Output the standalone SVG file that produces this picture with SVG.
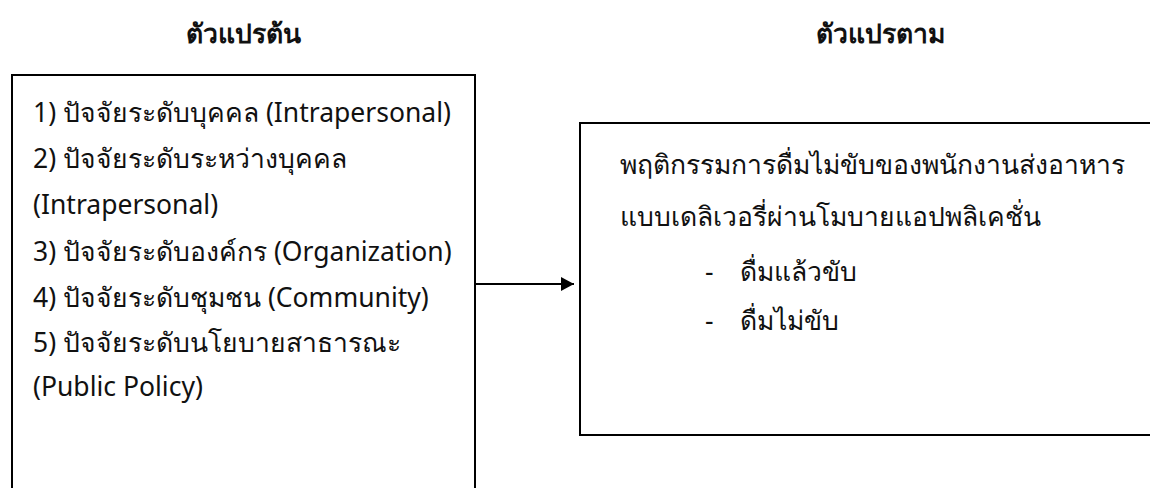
<svg xmlns="http://www.w3.org/2000/svg" width="1150" height="488" viewBox="0 0 1150 488">
<defs>
<style>
.t{font-family:"Noto Sans","DejaVu Sans",sans-serif;font-size:26.5px;fill:#111}
.h{font-family:"Noto Sans","DejaVu Sans",sans-serif;font-size:26.5px;font-weight:bold;fill:#111;text-anchor:middle}
.box{fill:#fff;stroke:#000;stroke-width:2}
</style>
<marker id="arr" markerWidth="13" markerHeight="14" refX="13" refY="7" orient="auto" markerUnits="userSpaceOnUse">
<path d="M0,0 L13,7 L0,14 Z" fill="#000"/>
</marker>
</defs>
<rect width="1150" height="488" fill="#fff"/>
<g id="title-left"><text class="h" x="243" y="43">ตัวแปรต้น</text></g>
<g id="title-right"><text class="h" x="880" y="43">ตัวแปรตาม</text></g>
<g id="node-independent">
<rect class="box" x="12" y="75" width="463" height="420"/>
<text class="t" x="33" y="122">1) ปัจจัยระดับบุคคล (Intrapersonal)</text>
<text class="t" x="33" y="168">2) ปัจจัยระดับระหว่างบุคคล</text>
<text class="t" x="33" y="214">(Intrapersonal)</text>
<text class="t" x="33" y="261">3) ปัจจัยระดับองค์กร (Organization)</text>
<text class="t" x="33" y="307">4) ปัจจัยระดับชุมชน (Community)</text>
<text class="t" x="33" y="352">5) ปัจจัยระดับนโยบายสาธารณะ</text>
<text class="t" x="33" y="396">(Public Policy)</text>
</g>
<g id="node-dependent">
<rect class="box" x="580" y="123" width="580" height="312"/>
<text class="t" x="620" y="174">พฤติกรรมการดื่มไม่ขับของพนักงานส่งอาหาร</text>
<text class="t" x="620" y="226">แบบเดลิเวอรี่ผ่านโมบายแอปพลิเคชั่น</text>
<text class="t" x="705" y="281">-</text>
<text class="t" x="740" y="281">ดื่มแล้วขับ</text>
<text class="t" x="705" y="330">-</text>
<text class="t" x="740" y="330">ดื่มไม่ขับ</text>
</g>
<g id="connectors">
<line x1="476" y1="284" x2="574" y2="284" stroke="#000" stroke-width="1.8" marker-end="url(#arr)"/>
</g>
</svg>
